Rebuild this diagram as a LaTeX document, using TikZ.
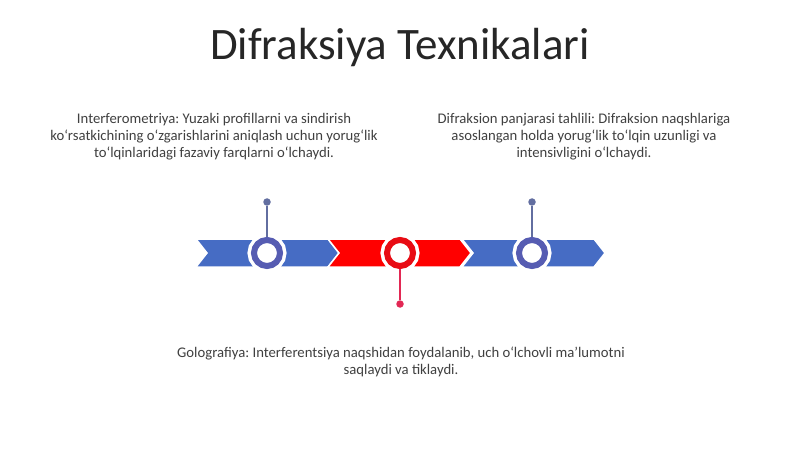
\documentclass[tikz,border=0pt]{standalone}
\usepackage{fontspec}
\setmainfont{Carlito}
\frenchspacing
\definecolor{bandblue}{RGB}{70,108,196}
\definecolor{bandred}{RGB}{255,0,0}
\definecolor{ringblue}{RGB}{86,92,178}
\definecolor{ringred}{RGB}{232,12,20}
\definecolor{stemblue}{RGB}{98,110,160}
\definecolor{stemred}{RGB}{226,40,84}
\definecolor{textgray}{RGB}{64,64,64}
\definecolor{titlegray}{RGB}{38,38,38}
\begin{document}
\begin{tikzpicture}
    [x=1pt,y=-1pt,
    band/.style={draw=white,line width=1.5pt,line join=miter},
    ring/.style={circle,minimum size=26pt,inner sep=0pt,outer sep=3pt,fill=white,line width=6pt,
        preaction={draw=white,line width=13pt}},
    pin/.style={circle,minimum size=7.5pt,inner sep=0pt},
    stem/.style={line width=1.4pt},
    info/.style={align=center,inner sep=0pt,anchor=north,text=textgray,font=\fontsize{14.7}{17}\selectfont}]

    \useasboundingbox[fill=white] (0,0) rectangle (800,449);
    %\draw[help lines,step=50] (0,0) grid (800,449);

    \node[anchor=base,text=titlegray,font=\fontsize{45}{50}\selectfont] (title) at (400,60) {Difraksiya Texnikalari};

    \foreach \x/\c in {196/bandblue,328/bandred,462/bandblue}
        \filldraw[band,fill=\c] (\x,239) -- ++(132,0) -- ++(11,14) -- ++(-11,14) -- ++(-132,0) -- ++(11,-14) -- cycle;

    \node[ring,draw=ringblue] (c1) at (267,253) {};
    \node[ring,draw=ringred]  (c2) at (400,253) {};
    \node[ring,draw=ringblue] (c3) at (532,253) {};

    \node[pin,fill=stemblue] (p1) at (267,202) {};
    \node[pin,fill=stemred]  (p2) at (400,304) {};
    \node[pin,fill=stemblue] (p3) at (532,202) {};

    \draw[stem,stemblue] (p1) -- (c1);
    \draw[stem,stemred]  (p2) -- (c2);
    \draw[stem,stemblue] (p3) -- (c3);

    \node[info] (t1) at (214,113) {Interferometriya: Yuzaki profillarni va sindirish\\
        ko‘rsatkichining o‘zgarishlarini aniqlash uchun yorug‘lik\\
        to‘lqinlaridagi fazaviy farqlarni o‘lchaydi.};
    \node[info] (t3) at (584,113) {Difraksion panjarasi tahlili: Difraksion naqshlariga\\
        asoslangan holda yorug‘lik to‘lqin uzunligi va\\
        intensivligini o‘lchaydi.};
    \node[info] (t2) at (401,347) {Golografiya: Interferentsiya naqshidan foydalanib, uch o‘lchovli ma’lumotni\\
        saqlaydi va tiklaydi.};
\end{tikzpicture}
\end{document}
